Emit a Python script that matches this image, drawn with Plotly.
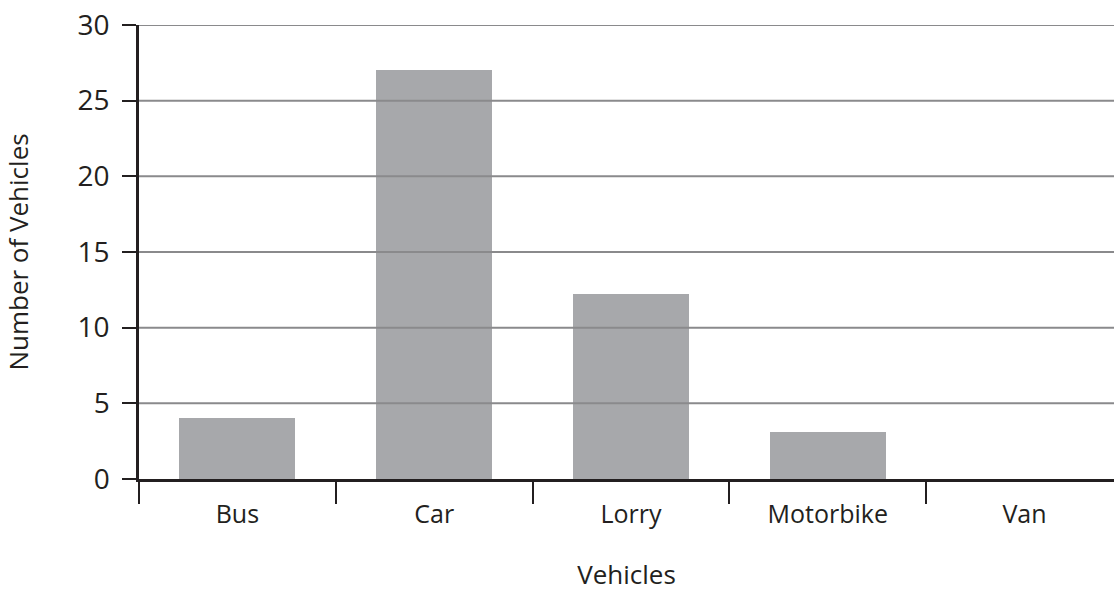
import plotly.graph_objects as go

categories = ["Bus", "Car", "Lorry", "Motorbike", "Van"]
counts = [4, 27, 12.2, 3.1, 0]
y_ticks = [0, 5, 10, 15, 20, 25, 30]

FONT = "Open Sans"
TEXT = "#231f20"

fig = go.Figure()
fig.add_trace(go.Bar(
    x=categories, y=counts, width=0.59,
    marker=dict(color="#a7a8ab", line=dict(width=0)),
    hoverinfo="x+y",
))

for v in y_ticks[1:]:
    fig.add_shape(type="line", xref="paper", x0=0, x1=1, yref="y", y0=v, y1=v,
                  line=dict(color="#8a8a8c", width=2), layer="above")

fig.update_layout(
    width=1114, height=592,
    margin=dict(l=139, r=0, t=25, b=113, autoexpand=False),
    paper_bgcolor="white", plot_bgcolor="white",
    showlegend=False,
    font=dict(family=FONT, color=TEXT),
    bargap=0,
)
fig.update_xaxes(
    type="category", range=[-0.5, 4.455],
    tickson="boundaries", ticks="outside", ticklen=22, tickwidth=2, tickcolor=TEXT,
    ticklabelstandoff=11,
    showline=True, linecolor=TEXT, linewidth=2.5,
    showgrid=False, zeroline=False,
    tickfont=dict(size=25, family=FONT, color=TEXT),
    title=dict(text="Vehicles", font=dict(size=26, family=FONT, color=TEXT), standoff=40),
    automargin=False,
)
fig.update_yaxes(
    range=[0, 30], tickvals=y_ticks,
    ticks="outside", ticklen=14, tickwidth=2, tickcolor=TEXT,
    ticklabelstandoff=7,
    showline=True, linecolor=TEXT, linewidth=2.5,
    showgrid=False, zeroline=False,
    tickfont=dict(size=28, family=FONT, color=TEXT),
    title=dict(text="Number of Vehicles", font=dict(size=26, family=FONT, color=TEXT), standoff=44),
    automargin=False,
)

fig.write_html("out.html", config={"displayModeBar": False},
               post_script="document.body.style.margin='0';document.body.style.padding='0';window.dispatchEvent(new Event('resize'));")
